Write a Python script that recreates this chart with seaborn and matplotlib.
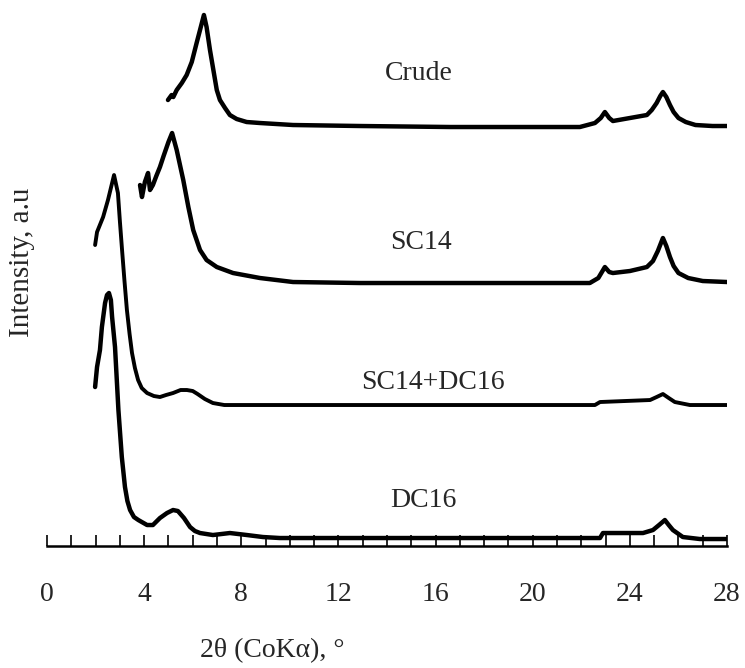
import numpy as np
import pandas as pd
import matplotlib
matplotlib.use('Agg')
import matplotlib.pyplot as plt
from matplotlib.ticker import MultipleLocator
import seaborn as sns

# digitised XRD patterns (2theta in degrees, intensity in a.u., curves already stacked)
crude_x = [4.98, 5.13, 5.20, 5.34, 5.55, 5.75, 5.96, 6.16, 6.30, 6.46, 6.57, 6.71, 6.85, 6.99,
           7.12, 7.33, 7.53, 7.81, 8.22, 8.77, 10.13, 12.89, 16.6, 21.94, 22.56, 22.80,
           22.97, 23.15, 23.30, 24.00, 24.70, 24.90, 25.10, 25.25, 25.36, 25.50, 25.65, 25.80,
           26.00, 26.30, 26.70, 27.40, 28.0]
crude_y = [446, 451, 449, 456, 463, 471, 484, 503, 516, 531, 519, 496, 476, 456,
           446, 438, 431, 427, 424, 423, 421, 420, 419, 419, 423, 428,
           434, 428, 425, 428, 431, 436, 443, 450, 454, 449, 441, 434,
           428, 424, 421, 420, 420]

sc14_x = [3.83, 3.91, 4.03, 4.16, 4.24, 4.36, 4.50, 4.65, 4.80, 5.00, 5.15, 5.34, 5.61, 5.82,
          6.02, 6.30, 6.57, 6.99, 7.66, 8.77, 10.13, 12.89, 22.35, 22.70, 22.97, 23.15,
          23.30, 24.0, 24.70, 24.95, 25.15, 25.36, 25.50, 25.65, 25.80, 26.00, 26.40, 27.0, 28.0]
sc14_y = [361, 349, 364, 373, 356, 361, 370, 379, 390, 404, 413, 396, 366, 339,
          316, 296, 286, 279, 273, 268, 264, 263, 263, 268, 279, 274,
          273, 275, 279, 285, 295, 308, 300, 289, 280, 273, 268, 265, 264]

mix_x = [1.98, 2.06, 2.31, 2.51, 2.76, 2.92, 3.00, 3.09, 3.19, 3.29, 3.40, 3.50, 3.62, 3.75,
         3.90, 4.12, 4.40, 4.65, 4.90, 5.19, 5.50, 5.76, 6.00, 6.20, 6.50, 6.83, 7.30, 7.95,
         22.56, 22.77, 24.83, 25.10, 25.36, 25.60, 25.85, 26.47, 28.0]
mix_y = [301, 314, 329, 346, 371, 353, 325, 296, 265, 236, 212, 193, 178, 166,
         158, 153, 150, 149, 151, 153, 156, 156, 155, 152, 147, 143, 141, 141,
         141, 144, 146, 149, 152, 148, 144, 141, 141]

dc16_x = [1.98, 2.06, 2.18, 2.26, 2.39, 2.47, 2.55, 2.63, 2.68, 2.80, 2.94, 3.08, 3.21, 3.31,
          3.42, 3.58, 3.76, 4.12, 4.36, 4.65, 4.94, 5.19, 5.39, 5.64, 5.89, 6.09, 6.30, 6.83,
          7.53, 8.23, 8.89, 9.59, 22.77, 22.89, 24.54, 24.95, 25.20, 25.44, 25.60, 25.77,
          26.18, 26.88, 28.0]
dc16_y = [159, 179, 196, 219, 243, 251, 253, 246, 229, 199, 136, 89, 59, 45,
          36, 29, 26, 21, 21, 28, 33, 36, 35, 28, 19, 15, 13, 11,
          13, 11, 9, 8, 8, 13, 13, 16, 21, 26, 21, 16,
          9, 7, 7]

sample_names = ['Crude', 'SC14', 'SC14+DC16', 'DC16']
label_x = [15.3, 15.4, 15.9, 15.5]
label_y = [473, 304, 164, 46]

sns.set_style('white')
plt.rcParams['font.family'] = ['Liberation Serif', 'DejaVu Serif']

fig = plt.figure(figsize=(7.45, 6.68), dpi=100)
ax = fig.add_axes([0.0631, 0.1826, 0.9128, 0.8099])

curves = [(crude_x, crude_y), (sc14_x, sc14_y), (mix_x, mix_y), (dc16_x, dc16_y)]
widths = [3.2, 3.2, 2.8, 3.2]
for name, (xs, ys), lw in zip(sample_names, curves, widths):
    df = pd.DataFrame({'two_theta': xs, 'intensity': ys})
    sns.lineplot(data=df, x='two_theta', y='intensity', color='black', linewidth=lw,
                 sort=False, estimator=None, ax=ax,
                 solid_joinstyle='round', solid_capstyle='round')

for name, tx, ty in zip(sample_names, label_x, label_y):
    ax.text(tx, ty, name, fontsize=20, ha='center', va='center')

ax.set_xlim(0, 28)
ax.set_ylim(0, 541)
ax.xaxis.set_major_locator(MultipleLocator(4))
ax.xaxis.set_minor_locator(MultipleLocator(1))
ax.tick_params(axis='x', which='both', direction='in', length=8, width=1.4, bottom=True)
ax.tick_params(axis='x', which='major', labelsize=20, pad=26)
ax.set_yticks([])
ax.set_xlabel('')
ax.set_ylabel('')
for side in ['left', 'right', 'top']:
    ax.spines[side].set_visible(False)
ax.spines['bottom'].set_linewidth(1.8)
ax.spines['bottom'].set_color('black')

fig.text(22 / 745, 1 - 262 / 668, 'Intensity, a.u', rotation=90, fontsize=21,
         ha='center', va='center')
fig.text(272 / 745, 1 - 651 / 668, '2θ (CoKα), °', fontsize=20, ha='center', va='center')

fig.savefig('out.png', dpi=100)
